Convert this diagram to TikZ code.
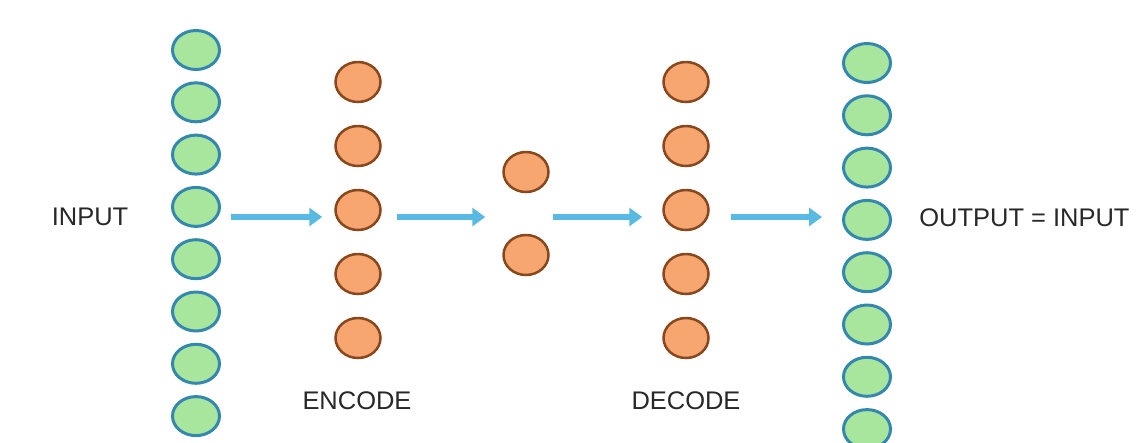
\documentclass[tikz,border=0pt]{standalone}
\usepackage{fontspec}
\setmainfont{Liberation Sans}
\definecolor{leafgreen}{RGB}{168,230,158}
\definecolor{tealedge}{RGB}{52,136,176}
\definecolor{peach}{RGB}{246,166,110}
\definecolor{rustedge}{RGB}{135,72,30}
\definecolor{skyblue}{RGB}{88,186,226}
\definecolor{inkgray}{RGB}{40,40,40}
\usetikzlibrary{arrows.meta, shapes.geometric}

\begin{document}
\begin{tikzpicture}[x=0.02cm, y=-0.02cm,
  unit/.style={ellipse, draw, inner sep=0pt},
  visible/.style={unit, fill=leafgreen, draw=tealedge, line width=0.06cm,
    minimum width=0.94cm, minimum height=0.78cm},
  hidden/.style={unit, fill=peach, draw=rustedge, line width=0.05cm,
    minimum width=0.9cm, minimum height=0.8cm},
  flow/.style={-{Triangle[length=0.26cm, width=0.36cm]}, skyblue, line width=0.11cm},
  caption/.style={font=\fontsize{14.5}{17}\selectfont, text=inkgray, inner sep=0pt},
]
  \useasboundingbox (0,0) rectangle (1137,443);
  \clip (0,0) rectangle (1137,443);

  % input and output layers
  \foreach \i in {0,...,7} {
    \node[visible] (in\i) at (196, 50+52.3*\i) {};
    \node[visible] (out\i) at (867, 63+52.3*\i) {};
  }
  % encoder, code, decoder
  \foreach \i in {0,...,4} {
    \node[hidden] (enc\i) at (358, 82+64*\i) {};
    \node[hidden] (dec\i) at (686, 82+64*\i) {};
  }
  \node[hidden] (code0) at (526, 172) {};
  \node[hidden] (code1) at (526, 255) {};

  % arrows between the layers
  \coordinate (flowline) at (0, 217);
  \draw[flow, shorten <=0.2cm, shorten >=0.24cm] (in3.east |- flowline) -- (enc2.west |- flowline);
  \draw[flow, shorten <=0.3cm, shorten >=0.34cm] (enc2.east |- flowline) -- (code0.west |- flowline);
  \draw[flow, shorten <=0.06cm, shorten >=0.4cm] (code0.east |- flowline) -- (dec2.west |- flowline);
  \draw[flow, shorten <=0.42cm, shorten >=0.4cm] (dec2.east |- flowline) -- (out3.west |- flowline);

  \node[caption] (inlabel) at (90, 217) {INPUT};
  \node[caption] (enclabel) at (357, 401) {ENCODE};
  \node[caption] (declabel) at (686, 401) {DECODE};
  \node[caption, anchor=west] (outlabel) at (919, 218) {OUTPUT = INPUT};
\end{tikzpicture}
\end{document}
